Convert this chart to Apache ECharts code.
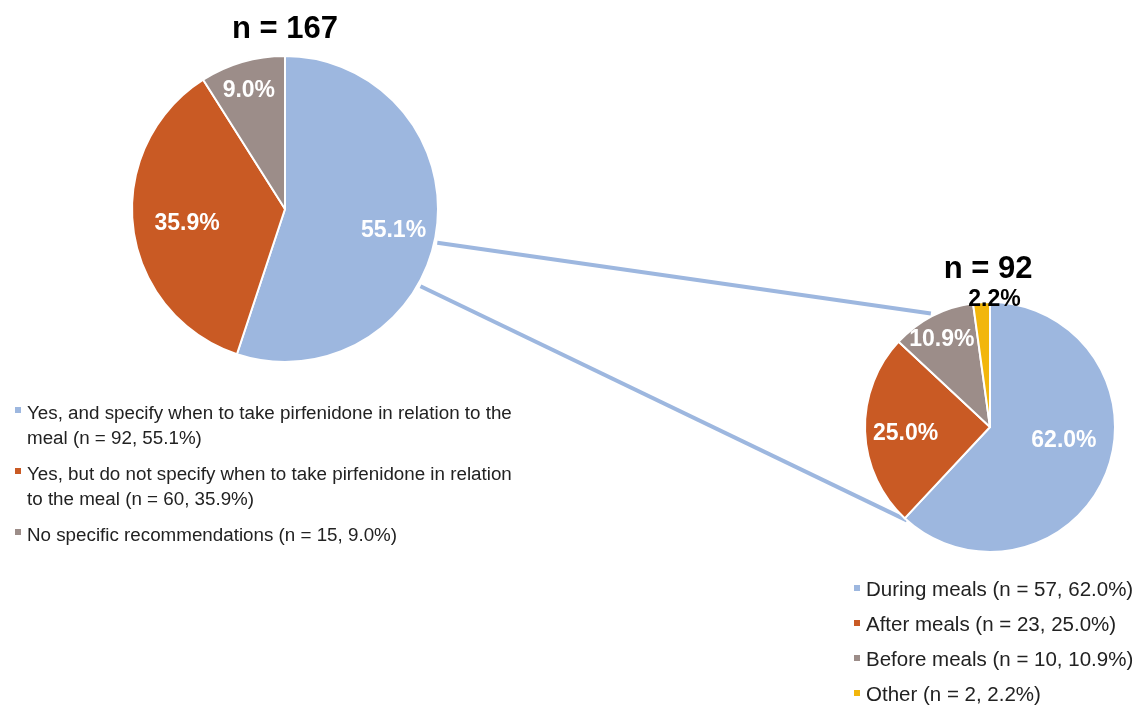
<!DOCTYPE html>
<html>
<head>
<meta charset="utf-8">
<script src="https://cdn.jsdelivr.net/npm/echarts@6/dist/echarts.min.js"></script>
<style>html,body{margin:0;padding:0;background:#fff;}#chart{width:1139px;height:718px;}</style>
</head>
<body>
<div id="chart"></div>
<script>
// ---- data ----
const leftTitle = 'n = 167';
const leftCategories = [
  'Yes, and specify when to take pirfenidone in relation to the\nmeal',
  'Yes, but do not specify when to take pirfenidone in relation\nto the meal',
  'No specific recommendations'
];
const leftCounts = [92, 60, 15];
const leftPercents = [55.1, 35.9, 9.0];

const rightTitle = 'n = 92';
const rightCategories = ['During meals', 'After meals', 'Before meals', 'Other'];
const rightCounts = [57, 23, 10, 2];
const rightPercents = [62.0, 25.0, 10.9, 2.2];

// ---- style ----
const colors = ['#9DB7DF', '#C95A24', '#9C8D89', '#F2B60C'];
const FONT = '"Liberation Sans", Arial, sans-serif';
const L = { cx: 285, cy: 209, r: 153 };
const R = { cx: 990, cy: 427, r: 125 };
// label nudges (px) from the default inside position
const leftNudge = [[30, 9], [-19, 5], [-14, -42]];
const rightNudge = [[13, -10], [-19, 4], [-18, -29], [9, -62]];

function legendText(name, cats, counts, pcts) {
  const i = cats.indexOf(name);
  return name + ' (n = ' + counts[i] + ', ' + pcts[i].toFixed(1) + '%)';
}

function pt(c, deg, rr) {
  const a = deg * Math.PI / 180;
  return [c.cx + rr * Math.sin(a), c.cy - rr * Math.cos(a)];
}
const c1 = pt(L, 102.5, L.r + 3), c2 = pt(R, 332.5, R.r + 3);
const c3 = pt(L, 119.7, L.r + 3), c4 = pt(R, 221.7, R.r);

const chart = echarts.init(document.getElementById('chart'), null, { renderer: 'canvas' });
chart.setOption({
  backgroundColor: '#fff',
  animation: false,
  color: colors,
  title: [
    { text: leftTitle, left: L.cx, top: 14, textAlign: 'center', padding: 0,
      textStyle: { fontFamily: FONT, fontSize: 31, fontWeight: 'bold', color: '#000' } },
    { text: rightTitle, left: R.cx - 2, top: 254, textAlign: 'center', padding: 0,
      textStyle: { fontFamily: FONT, fontSize: 31, fontWeight: 'bold', color: '#000' } }
  ],
  legend: [
    {
      data: leftCategories,
      orient: 'vertical',
      left: 13,
      top: 376,
      padding: 0,
      itemGap: -14,
      itemWidth: 8,
      itemHeight: 15,
      icon: 'path://M0,0h8v8h-8zM0,15',
      selectedMode: false,
      formatter: function (name) {
        const t = legendText(name, leftCategories, leftCounts, leftPercents);
        return t.indexOf('\n') >= 0 ? '\n' + t : '\n' + t + '\n';
      },
      textStyle: { fontFamily: FONT, fontSize: 18.8, lineHeight: 25, color: '#222' }
    },
    {
      data: rightCategories,
      orient: 'vertical',
      left: 852,
      top: 578,
      padding: 0,
      itemGap: 11,
      itemWidth: 8,
      itemHeight: 12,
      icon: 'path://M0,0h8v8h-8zM0,12',
      selectedMode: false,
      formatter: function (name) {
        return legendText(name, rightCategories, rightCounts, rightPercents);
      },
      textStyle: { fontFamily: FONT, fontSize: 20.5, lineHeight: 24, color: '#222' }
    }
  ],
  graphic: [
    { type: 'line', z: 0, shape: { x1: c1[0], y1: c1[1], x2: c2[0], y2: c2[1] },
      style: { stroke: colors[0], lineWidth: 4 } },
    { type: 'line', z: 0, shape: { x1: c3[0], y1: c3[1], x2: c4[0], y2: c4[1] },
      style: { stroke: colors[0], lineWidth: 4 } }
  ],
  series: [
    {
      type: 'pie',
      z: 5,
      color: colors,
      center: [L.cx, L.cy],
      radius: L.r,
      startAngle: 90,
      clockwise: true,
      avoidLabelOverlap: false,
      emphasis: { disabled: true },
      itemStyle: { borderColor: '#fff', borderWidth: 2 },
      label: {
        show: true, position: 'inside',
        fontFamily: FONT, fontSize: 23, fontWeight: 'bold', color: '#fff',
        textBorderWidth: 0,
        formatter: p => leftPercents[p.dataIndex].toFixed(1) + '%'
      },
      labelLine: { show: false },
      labelLayout: p => ({ dx: leftNudge[p.dataIndex][0], dy: leftNudge[p.dataIndex][1] }),
      data: leftCategories.map((n, i) => ({ name: n, value: leftCounts[i], itemStyle: { color: colors[i] } }))
    },
    {
      type: 'pie',
      z: 5,
      color: colors,
      center: [R.cx, R.cy],
      radius: R.r,
      startAngle: 90,
      clockwise: true,
      avoidLabelOverlap: false,
      emphasis: { disabled: true },
      itemStyle: { borderColor: '#fff', borderWidth: 2 },
      label: {
        show: true, position: 'inside',
        fontFamily: FONT, fontSize: 23, fontWeight: 'bold', color: '#fff',
        textBorderWidth: 0,
        formatter: p => rightPercents[p.dataIndex].toFixed(1) + '%'
      },
      labelLine: { show: false },
      labelLayout: p => ({ dx: rightNudge[p.dataIndex][0], dy: rightNudge[p.dataIndex][1] }),
      data: rightCategories.map((n, i) => ({
        name: n, value: rightCounts[i],
        itemStyle: { color: colors[i] },
        label: i === 3 ? { color: '#000' } : undefined
      }))
    }
  ]
});
</script>
</body>
</html>
